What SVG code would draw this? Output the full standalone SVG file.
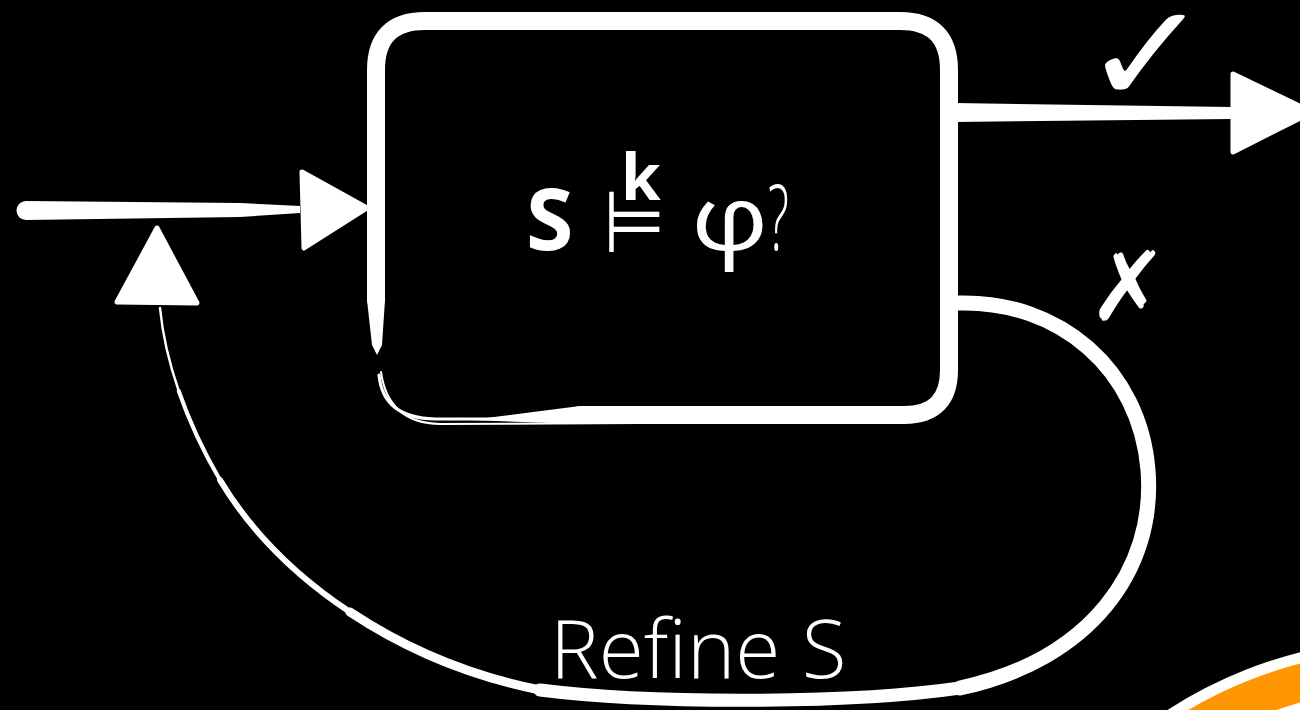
<svg xmlns="http://www.w3.org/2000/svg" width="1300" height="710" viewBox="0 0 1300 710">
<style>
.w{fill:#fff}
.ln{fill:none;stroke:#fff;stroke-linecap:round;stroke-linejoin:round}
.head{fill:#fff;stroke:#fff;stroke-width:5;stroke-linejoin:round}
.t{fill:#fff;font-family:"Open Sans","Noto Sans",sans-serif}
.sym{fill:#fff;font-family:"DejaVu Sans",sans-serif}
</style>
<rect width="1300" height="710" fill="#000"/>
<g id="deco">
<circle cx="1410" cy="1085" r="441" fill="#FF9500" stroke="#fff" stroke-width="11"/>
<circle cx="1410" cy="1085" r="394" fill="#4CD964" stroke="#fff" stroke-width="8"/>
</g>
<g id="connectors">
<path class="w" d="M26 201 L240 203 L300 206 L300 213 L240 217 L26 220 A9.5 9.5 0 0 1 26 201 Z"/>
<polygon class="head" points="302,172 367,208 304,248"/>
<path class="w" d="M955 103 L1232 107 L1232 119 L955 122 Z"/>
<polygon class="head" points="1233,74 1312,112 1233,152"/>
<path class="ln" stroke-width="15" d="M958 303 C1060 300 1140 370 1148 470 C1156 570 1090 660 960 688"/>
<path class="ln" stroke-width="13" d="M960 688 C850 704 650 704 540 690"/>
<path class="ln" stroke-width="9" d="M540 690 C470 676 405 648.5 350 612"/>
<path class="ln" stroke-width="6" d="M350 612 C295 575.5 250 530 220 480"/>
<path class="ln" stroke-width="4" d="M220 480 C202.5 450 188.75 420 178.75 391"/>
<path class="ln" stroke-width="2.5" d="M178.75 391 C168.75 362 162.5 334 160 308"/>
<polygon class="head" points="157,228 117,302 197,303"/>
</g>
<g id="check">
<text class="sym" font-size="140" transform="translate(1082 103) scale(1.1 1)">✓</text>
<text class="sym" x="1088" y="320" font-size="96">✗</text>
</g>
<g id="box">
<path class="ln" stroke-width="18" stroke-linecap="butt" d="M376 300 L376 70 Q376 21 425 21 L900 21 Q949 21 949 70 L949 370 Q949 415 904 415 L580 415"/>
<polygon class="w" points="367,300 385,300 382,345 377,355 372,345"/>
<polygon class="w" points="580,406 580,424 470,420"/>
<path class="ln" stroke-width="3" d="M379 375 Q383 418 435 419 L600 419"/>
<path class="ln" stroke-width="2" d="M381 372 Q388 423 440 424 L640 423"/>
<text class="t" x="526" y="250" font-size="86" font-weight="700">S</text>
<text class="sym" font-size="70" transform="translate(603 252) scale(1.02 1.23)">⊨</text>
<text class="t" x="621" y="200" font-size="64" font-weight="700">k</text>
<text class="t" font-size="90" transform="translate(691 250) scale(1.2 1)">φ</text>
<text class="t" font-size="90" font-weight="300" transform="translate(768 250) scale(0.55 1)">?</text>
</g>
<g id="label">
<text class="t" x="550" y="678" font-size="82" font-weight="300">Refine S</text>
</g>
</svg>
